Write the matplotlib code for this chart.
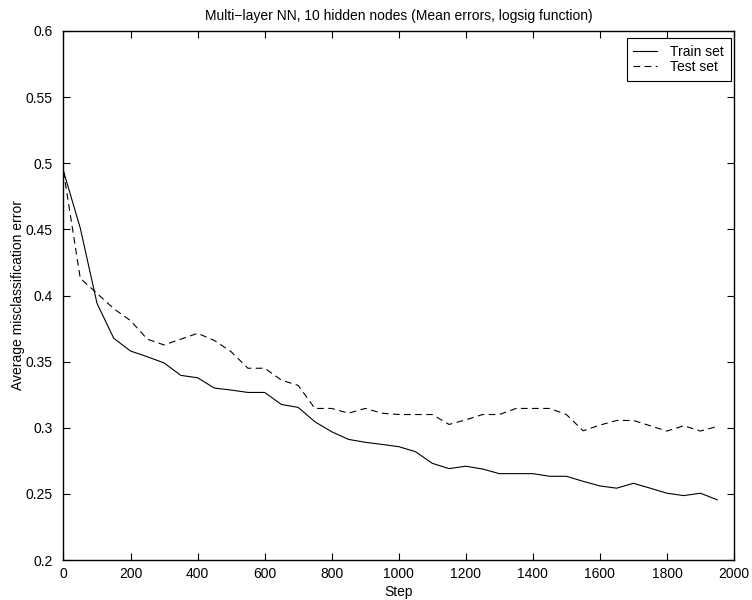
import matplotlib
matplotlib.use("Agg")
import matplotlib.pyplot as plt
import numpy as np

steps = list(range(0, 2000, 50))
train_err = [0.494, 0.451, 0.394, 0.3676, 0.358, 0.3537, 0.349, 0.3396, 0.3378, 0.330,
             0.3285, 0.3267, 0.3267, 0.3176, 0.3154, 0.3045, 0.297, 0.2912, 0.289, 0.2874,
             0.2857, 0.2819, 0.2731, 0.2691, 0.2709, 0.2688, 0.2653, 0.2653, 0.2653, 0.2633,
             0.2633, 0.2595, 0.256, 0.2543, 0.258, 0.2543, 0.2505, 0.2487, 0.2505, 0.2455]
test_err = [0.494, 0.413, 0.4016, 0.390, 0.381, 0.367, 0.3626, 0.367, 0.3714, 0.366,
            0.3575, 0.345, 0.345, 0.336, 0.332, 0.3146, 0.3146, 0.311, 0.3146, 0.311,
            0.310, 0.310, 0.310, 0.3025, 0.306, 0.310, 0.310, 0.3146, 0.3146, 0.3146,
            0.310, 0.2977, 0.302, 0.3055, 0.3055, 0.3015, 0.2975, 0.3015, 0.2975, 0.301]
xticks = [0, 200, 400, 600, 800, 1000, 1200, 1400, 1600, 1800, 2000]
yticks = [0.2, 0.25, 0.3, 0.35, 0.4, 0.45, 0.5, 0.55, 0.6]
ytick_labels = ["0.2", "0.25", "0.3", "0.35", "0.4", "0.45", "0.5", "0.55", "0.6"]

plt.rcParams['font.family'] = ['Liberation Sans', 'DejaVu Sans']
fs = 10

fig = plt.figure(figsize=(7.52, 6.0), dpi=100)
ax = fig.add_axes([63.5/752, 1-560/600, (734-63.5)/752, (560-31)/600])

ax.plot(steps, train_err, color='black', linewidth=0.8, label='Train set')
ax.plot(steps, test_err, color='black', linewidth=0.8, linestyle=(0, (6, 4)), label='Test set')

ax.set_xlim(0, 2000)
ax.set_ylim(0.2, 0.6)
ax.set_xticks(xticks)
ax.set_xticklabels([str(t) for t in xticks], fontsize=fs)
ax.set_yticks(yticks)
ax.set_yticklabels(ytick_labels, fontsize=fs)
ax.tick_params(direction='in', top=True, right=True, length=5, width=0.8)
ax.tick_params(axis='x', pad=5)
ax.tick_params(axis='y', pad=8)
for s in ax.spines.values():
    s.set_linewidth(1.0)

ax.set_xlabel('Step', fontsize=fs, labelpad=3)
ax.set_ylabel('Average misclassification error', fontsize=fs, labelpad=0)
ax.set_title('Multi\u2212layer NN, 10 hidden nodes (Mean errors, logsig function)', fontsize=fs, pad=8)

leg = ax.legend(loc='upper right', bbox_to_anchor=(0.9955, 0.9868), fontsize=fs, frameon=True,
                fancybox=False, edgecolor='black', framealpha=1, borderaxespad=0.0,
                handlelength=1.7, borderpad=0.5, labelspacing=0.1, handletextpad=0.95)
leg.get_frame().set_linewidth(0.8)

fig.savefig('out.png', dpi=100)
